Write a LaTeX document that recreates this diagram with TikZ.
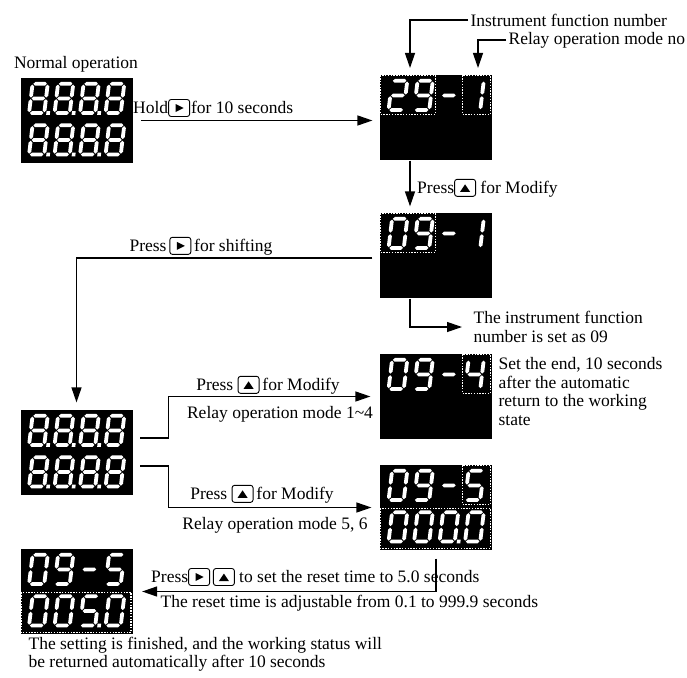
\documentclass[tikz,border=0pt]{standalone}
\usepackage{fontspec}
\setmainfont{Liberation Serif}
\usetikzlibrary{positioning,arrows.meta}

% seven-segment pieces (local units, y down)
\newcommand\ledh[3]{\fill[segment] (#1,#3) -- (#1+1.9,#3-1.9) -- (#2-1.9,#3-1.9) -- (#2,#3) -- (#2-1.9,#3+1.9) -- (#1+1.9,#3+1.9) -- cycle;}
\newcommand\ledv[3]{\fill[segment] (#1,#2) -- (#1+1.9,#2+1.9) -- (#1+1.9,#3-1.9) -- (#1,#3) -- (#1-1.9,#3-1.9) -- (#1-1.9,#2+1.9) -- cycle;}
\newcommand\segA{\ledh{2.7}{16.3}{1.9}}
\newcommand\segB{\ledv{17.1}{2.7}{15.7}}
\newcommand\segC{\ledv{17.1}{17.3}{30.3}}
\newcommand\segD{\ledh{2.7}{16.3}{31.1}}
\newcommand\segE{\ledv{1.9}{17.3}{30.3}}
\newcommand\segF{\ledv{1.9}{2.7}{15.7}}
\newcommand\segG{\ledh{2.7}{16.3}{16.5}}
\newcommand\segP{\fill[segment] (19.2,29.3) rectangle ++(3.6,3.6);}
\newcommand\leddigit[4]{\begin{scope}[shift={(#1.north west)},shift={(#2,#3)},xslant=0.12]
  \foreach \sg in {#4} {\csname seg\sg\endcsname}
\end{scope}}
% keys
\newcommand\keyR{\tikz[baseline=0pt]{\draw[line width=0.9pt,rounded corners=2.5pt] (0pt,-3pt) rectangle (21pt,14pt); \fill (7pt,1.5pt) -- (15pt,5.5pt) -- (7pt,9.5pt) -- cycle;}}
\newcommand\keyU{\tikz[baseline=0pt]{\draw[line width=0.9pt,rounded corners=2.5pt] (0pt,-3pt) rectangle (21pt,14pt); \fill (5.5pt,1.5pt) -- (15.5pt,1.5pt) -- (10.5pt,9pt) -- cycle;}}

\tikzset{
  disp/.style={fill=black,minimum width=112pt,minimum height=85pt,inner sep=0pt},
  segment/.style={fill=white},
  dotbox/.style={white,line width=1.4pt,dash pattern=on 1.4pt off 1.4pt},
  lbl/.style={font=\fontsize{17.5}{18.5}\selectfont,inner sep=2pt},
}

\begin{document}
\begin{tikzpicture}[x=1pt,y=-1pt,>={Triangle[length=15pt,width=10pt]},line width=1.2pt]
\useasboundingbox (0,0) rectangle (687,677);

% displays
\node[disp] (d1) at (76.5,120.5) {};
\node[disp] (d2) at (436,117.5) {};
\node[disp] (d3) at (436,255.5) {};
\node[disp] (d4) at (76.5,452.5) {};
\node[disp] (d5) at (436,396.5) {};
\node[disp] (d6) at (436,507.5) {};
\node[disp] (d7) at (76.5,591.5) {};

% 8.8.8.8 rows
\foreach \d in {d1,d4} {
  \foreach \dy in {4.5,46} {
    \foreach \dx in {11,36.5,62} {\leddigit{\d}{\dx}{\dy}{A,B,C,D,E,F,G,P}}
    \leddigit{\d}{87.5}{\dy}{A,B,C,D,E,F,G}
  }
}
% 29-1
\leddigit{d2}{11}{4.5}{A,B,G,E,D}
\leddigit{d2}{36.5}{4.5}{A,B,C,D,F,G}
\leddigit{d2}{62}{4.5}{G}
\leddigit{d2}{87.5}{4.5}{B,C}
% 09-1
\leddigit{d3}{11}{4.5}{A,B,C,D,E,F}
\leddigit{d3}{36.5}{4.5}{A,B,C,D,F,G}
\leddigit{d3}{62}{4.5}{G}
\leddigit{d3}{87.5}{4.5}{B,C}
% 09-4
\leddigit{d5}{11}{4.5}{A,B,C,D,E,F}
\leddigit{d5}{36.5}{4.5}{A,B,C,D,F,G}
\leddigit{d5}{62}{4.5}{G}
\leddigit{d5}{87.5}{4.5}{F,G,B,C}
% 09-5 / 000.0 and 09-5 / 005.0
\foreach \d in {d6,d7} {
  \leddigit{\d}{11}{4.5}{A,B,C,D,E,F}
  \leddigit{\d}{36.5}{4.5}{A,B,C,D,F,G}
  \leddigit{\d}{62}{4.5}{G}
  \leddigit{\d}{87.5}{4.5}{A,F,G,C,D}
  \leddigit{\d}{11}{46}{A,B,C,D,E,F}
  \leddigit{\d}{36.5}{46}{A,B,C,D,E,F}
  \leddigit{\d}{87.5}{46}{A,B,C,D,E,F}
}
\leddigit{d6}{62}{46}{A,B,C,D,E,F,P}
\leddigit{d7}{62}{46}{A,F,G,C,D,P}

% dotted marks
\draw[dotbox] ([shift={(1,1)}]d2.north west) rectangle ([shift={(56,40)}]d2.north west);
\draw[dotbox] ([shift={(83,1)}]d2.north west) rectangle ([shift={(111,40)}]d2.north west);
\draw[dotbox] ([shift={(1,1)}]d3.north west) rectangle ([shift={(56,40)}]d3.north west);
\draw[dotbox] ([shift={(83,1)}]d5.north west) rectangle ([shift={(111,40)}]d5.north west);
\draw[dotbox] ([shift={(83,1)}]d6.north west) rectangle ([shift={(111,40)}]d6.north west);
\draw[dotbox] ([shift={(1,44)}]d6.north west) rectangle ([shift={(111,84)}]d6.north west);
\draw[dotbox] ([shift={(1,44)}]d7.north west) rectangle ([shift={(111,84)}]d7.north west);

% labels
\node[lbl] (normal) at (76,64) {Normal operation};
\node[lbl,anchor=west] (hold) at (131,108) {Hold\keyR\kern1pt for 10 seconds};
\node[lbl,anchor=west] (ifn) at (468,20) {Instrument function number};
\node[lbl,anchor=west] (rmn) at (506,40) {Relay operation mode no};
\node[lbl,anchor=west] (pm1) at (415,188) {Press\keyU\ for Modify};
\node[lbl,anchor=west,align=left] (note09) at (471,327) {The instrument function\\number is set as 09};
\node[lbl] (shift) at (201,246) {Press\,\keyR\,for shifting};
\node[lbl,anchor=north west,align=left] (noteend) at (496,355) {Set the end, 10 seconds\\after the automatic\\return to the working\\state};
\node[lbl] (pm2) at (268,385) {Press \keyU\,for Modify};
\node[lbl] (rm14) at (280,414) {Relay operation mode 1\textasciitilde4};
\node[lbl] (pm3) at (262,494) {Press \keyU\,for Modify};
\node[lbl] (rm56) at (275,525) {Relay operation mode 5, 6};
\node[lbl,anchor=west] (preset) at (149,577) {Press\keyR\,\keyU\ to set the reset time to 5.0 seconds};
\node[lbl,anchor=west] (radj) at (158,603) {The reset time is adjustable from 0.1 to 999.9 seconds};
\node[lbl,anchor=west,align=left] (fin) at (26,654) {The setting is finished, and the working status will\\be returned automatically after 10 seconds};

\coordinate (ifnend) at (410,68);
\coordinate (rmnend) at (478,68);

% connectors
\draw[->] ([xshift=8pt]d1.east) -- ([xshift=-7pt]d1.east -| d2.west);
\draw[->] (ifn.west) -| (ifnend);
\draw[->] (rmn.west) -| (rmnend);
\draw[->] ([xshift=-26pt]d2.south) -- ([xshift=-26pt,yshift=6pt]d3.north);
\draw[->] ([xshift=-26pt]d3.south) |- ([xshift=-9pt]note09.west);
\draw[->] ([xshift=-7pt,yshift=-2.5pt]d3.west) -| ([yshift=7pt]d4.north);
\draw[->] ([xshift=7pt,yshift=14.5pt]d4.east) -- ++(28,0) |- ([xshift=-9pt]d5.west);
\draw[->] ([xshift=7pt,yshift=-13.5pt]d4.east) -- ++(28,0) |- ([xshift=-8pt]d6.west);
\draw[->] ([yshift=-8pt]d6.south) |- ([xshift=9pt]d7.east);
\end{tikzpicture}
\end{document}
